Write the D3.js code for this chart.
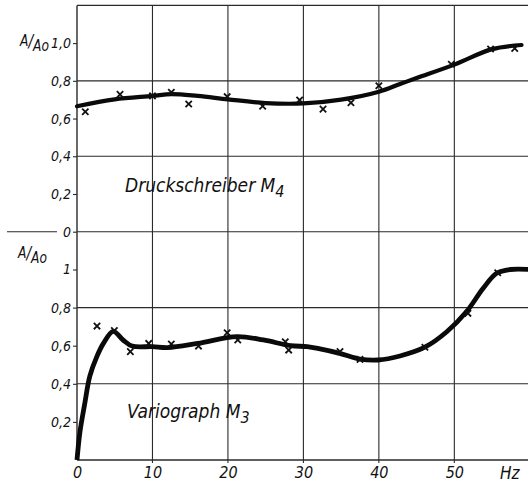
<!DOCTYPE html>
<html>
<head>
<meta charset="utf-8">
<script src="https://cdn.jsdelivr.net/npm/d3@7"></script>
<style>
  html, body { margin: 0; padding: 0; background: #fff; }
  svg { display: block; }
  text { font-family: "DejaVu Sans Condensed", "DejaVu Sans", sans-serif; font-style: italic; fill: #111; }
</style>
</head>
<body>
<svg id="chart" width="528" height="485"></svg>
<script>
// ---------- DATA ----------
const xTickValues = [0, 10, 20, 30, 40, 50];
const xTickLabels = ["0", "10", "20", "30", "40", "50"];
const xUnit = "Hz";

const topTickValues = [0, 0.2, 0.4, 0.6, 0.8, 1.0];
const topTickLabels = ["0", "0,2", "0,4", "0,6", "0,8", "1,0"];
const botTickValues = [0.2, 0.4, 0.6, 0.8, 1.0];
const botTickLabels = ["0,2", "0,4", "0,6", "0,8", "1"];
const gridYValues = [0.4, 0.8];
const gridXValues = [10, 20, 30, 40, 50];

const yLabel = "A/Ao";
const topTitle = ["Druckschreiber M", "4"];
const botTitle = ["Variograph M", "3"];

// Druckschreiber M4 : smoothed curve (Hz, A/Ao)
const topCurveHz  = [0, 5, 10, 12.5, 16, 20, 25, 30, 35, 40, 42.8, 45, 50, 55, 58.9];
const topCurveVal = [0.665, 0.702, 0.72, 0.73, 0.72, 0.702, 0.682, 0.68, 0.70, 0.742, 0.783, 0.815, 0.886, 0.968, 0.99];
// Druckschreiber M4 : measured points
const topPointsHz  = [1.1, 5.7, 10, 12.5, 14.8, 19.9, 24.6, 29.5, 32.6, 36.3, 40, 49.6, 54.8, 58.0];
const topPointsVal = [0.636, 0.728, 0.72, 0.739, 0.677, 0.716, 0.666, 0.698, 0.65, 0.684, 0.774, 0.888, 0.969, 0.972];

// Variograph M3 : smoothed curve
const botCurveHz  = [0, 0.4, 1, 1.7, 2.6, 3.5, 4.8, 6.1, 7.3, 10, 12, 16, 21.2, 24.7, 28.3, 30.5, 32.2, 34.8, 37.5, 39.9, 42.8, 46.1, 49, 51.6, 53.8, 55.6, 57.4, 60];
const botCurveVal = [0, 0.15, 0.29, 0.44, 0.54, 0.612, 0.675, 0.63, 0.598, 0.595, 0.59, 0.612, 0.648, 0.63, 0.60, 0.595, 0.583, 0.56, 0.53, 0.525, 0.546, 0.592, 0.673, 0.778, 0.90, 0.98, 1.0, 1.0];
// Variograph M3 : measured points
const botPointsHz  = [2.65, 4.95, 7.07, 9.5, 12.5, 16.1, 19.9, 21.3, 27.6, 28.05, 34.85, 37.5, 46.1, 51.8, 55.75];
const botPointsVal = [0.703, 0.679, 0.569, 0.612, 0.609, 0.598, 0.668, 0.63, 0.621, 0.577, 0.569, 0.528, 0.592, 0.77, 0.983];

// ---------- SCALES ----------
const svg = d3.select("#chart");
const W = 528, H = 485;
const x = d3.scaleLinear().domain([0, 60]).range([77, 529.8]);
const yTop = d3.scaleLinear().domain([0, 1.2]).range([231.7, 5.4]);
const yBot = d3.scaleLinear().domain([0, 1.2]).range([460, 231.4]);

const gridColor = "#2a2a2a";

// ---------- GRID ----------
const grid = svg.append("g").attr("stroke", gridColor).attr("stroke-width", 1.1).attr("fill", "none");
grid.selectAll("line.vx").data(gridXValues).join("line")
  .attr("x1", d => x(d)).attr("x2", d => x(d))
  .attr("y1", yTop(1.2)).attr("y2", yBot(0) + 3);
grid.selectAll("line.ht").data(gridYValues).join("line")
  .attr("x1", x(0)).attr("x2", W).attr("y1", d => yTop(d)).attr("y2", d => yTop(d));
grid.selectAll("line.hb").data(gridYValues).join("line")
  .attr("x1", x(0)).attr("x2", W).attr("y1", d => yBot(d)).attr("y2", d => yBot(d));
grid.append("line").attr("x1", x(0)).attr("x2", W).attr("y1", yTop(1.2)).attr("y2", yTop(1.2));
grid.append("line").attr("x1", x(0)).attr("x2", W).attr("y1", yTop(0)).attr("y2", yTop(0));
grid.append("line").attr("x1", 7).attr("x2", 57).attr("y1", yTop(0)).attr("y2", yTop(0));
grid.append("line").attr("x1", x(0)).attr("x2", W).attr("y1", yBot(0)).attr("y2", yBot(0)).attr("stroke-width", 1.4);
grid.append("line").attr("x1", x(0)).attr("x2", x(0)).attr("y1", yTop(1.2)).attr("y2", yBot(0)).attr("stroke-width", 1.4);

// ---------- AXES ----------
function styleAxis(g) {
  g.select(".domain").remove();
  g.selectAll(".tick line").attr("stroke", gridColor).attr("stroke-width", 1.1);
  g.selectAll(".tick text").attr("fill", "#111")
    .style("font-family", '"DejaVu Sans Condensed", "DejaVu Sans", sans-serif')
    .style("font-style", "italic");
}
svg.append("g").attr("transform", `translate(${x(0)},0)`)
  .call(d3.axisLeft(yTop).tickValues(topTickValues).tickSize(4).tickPadding(2)
    .tickFormat((d, i) => topTickLabels[i]))
  .call(styleAxis)
  .call(g => g.selectAll(".tick text").attr("font-size", 14));
svg.append("g").attr("transform", `translate(${x(0)},0)`)
  .call(d3.axisLeft(yBot).tickValues(botTickValues).tickSize(4).tickPadding(2)
    .tickFormat((d, i) => botTickLabels[i]))
  .call(styleAxis)
  .call(g => g.selectAll(".tick text").attr("font-size", 14));
svg.append("g").attr("transform", `translate(0,${yBot(0)})`)
  .call(d3.axisBottom(x).tickValues(xTickValues).tickSize(0).tickPadding(7)
    .tickFormat((d, i) => xTickLabels[i]))
  .call(styleAxis)
  .call(g => g.selectAll(".tick text").attr("font-size", 16));

svg.append("text").attr("x", 500).attr("y", 479).attr("font-size", 17).text(xUnit);

// y label "A/Ao"
function yLab(xp, yp) {
  const t = svg.append("text").attr("x", xp).attr("y", yp).attr("font-size", 15)
    .attr("textLength", 29).attr("lengthAdjust", "spacingAndGlyphs");
  t.append("tspan").attr("dy", -3).text(yLabel.slice(0, 1));
  t.append("tspan").attr("dy", 1).attr("font-size", 17).text(yLabel.slice(1, 2));
  t.append("tspan").attr("dy", 4).text(yLabel.slice(2));
}
yLab(20, 49);
yLab(18, 261);

// titles
function title(xp, yp, parts) {
  const t = svg.append("text").attr("x", xp).attr("y", yp).attr("font-size", 19);
  t.append("tspan").text(parts[0]);
  t.append("tspan").attr("dy", 5).attr("font-size", 16).text(parts[1]);
}
title(125, 192, topTitle);
title(127, 418, botTitle);

// ---------- CURVES ----------
const lineTop = d3.line().x(d => x(d[0])).y(d => yTop(d[1])).curve(d3.curveCatmullRom.alpha(0.5));
const lineBot = d3.line().x(d => x(d[0])).y(d => yBot(d[1])).curve(d3.curveCatmullRom.alpha(0.5));

svg.append("path").datum(d3.zip(topCurveHz, topCurveVal))
  .attr("d", lineTop).attr("fill", "none").attr("stroke", "#0a0a0a")
  .attr("stroke-width", 4.2).attr("stroke-linecap", "round").attr("stroke-linejoin", "round");
svg.append("path").datum(d3.zip(botCurveHz, botCurveVal))
  .attr("d", lineBot).attr("fill", "none").attr("stroke", "#0a0a0a")
  .attr("stroke-width", 4.8).attr("stroke-linecap", "butt").attr("stroke-linejoin", "round");

// ---------- MARKERS ----------
const crossSym = d3.symbol().type(d3.symbolX).size(28);
function marks(hz, val, y) {
  svg.append("g").selectAll("path").data(d3.zip(hz, val)).join("path")
    .attr("transform", d => `translate(${x(d[0])},${y(d[1])})`)
    .attr("d", crossSym).attr("fill", "none").attr("stroke", "#111").attr("stroke-width", 1.8);
}
marks(topPointsHz, topPointsVal, yTop);
marks(botPointsHz, botPointsVal, yBot);
</script>
</body>
</html>
